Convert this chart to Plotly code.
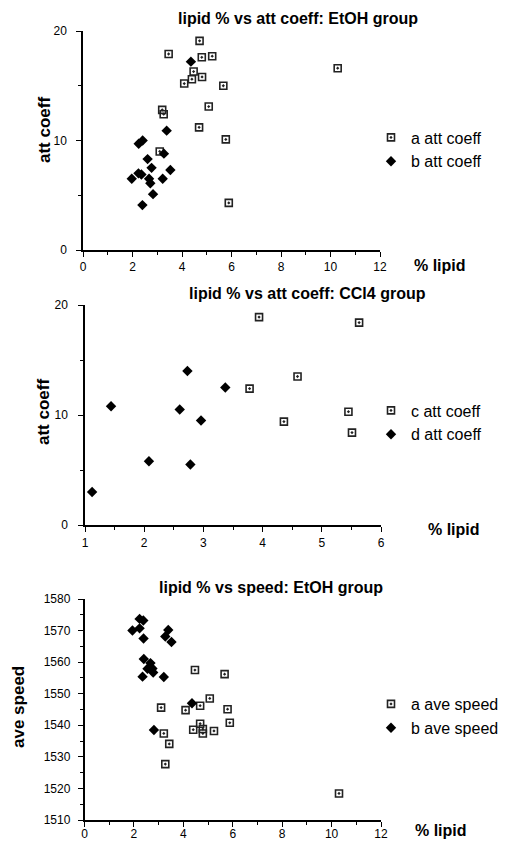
import plotly.graph_objects as go

# panel 1: lipid % vs att coeff, EtOH group
etoh_a_lipid = [3.46, 4.71, 4.80, 5.22, 4.47, 4.40, 4.09, 4.81, 5.67, 5.08, 3.20, 3.26, 4.69, 5.77, 3.10, 5.89, 10.29]
etoh_a_att = [17.9, 19.1, 17.6, 17.7, 16.3, 15.6, 15.2, 15.8, 15.0, 13.1, 12.8, 12.4, 11.2, 10.1, 9.0, 4.3, 16.6]
etoh_b_lipid = [4.36, 3.38, 2.41, 2.25, 3.27, 2.61, 2.77, 3.53, 2.24, 2.36, 1.97, 2.67, 3.22, 2.72, 2.83, 2.40]
etoh_b_att = [17.2, 10.9, 10.0, 9.7, 8.8, 8.3, 7.5, 7.3, 7.0, 6.9, 6.5, 6.5, 6.5, 6.1, 5.1, 4.1]

# panel 2: lipid % vs att coeff, CCl4 group
ccl4_c_lipid = [3.78, 3.94, 4.36, 4.59, 5.45, 5.51, 5.63]
ccl4_c_att = [12.4, 18.9, 9.4, 13.5, 10.3, 8.4, 18.4]
ccl4_d_lipid = [1.12, 1.44, 2.08, 2.60, 2.73, 2.78, 2.96, 3.37]
ccl4_d_att = [3.0, 10.8, 5.8, 10.5, 14.0, 5.5, 9.5, 12.5]

# panel 3: lipid % vs speed, EtOH group
speed_a_lipid = [4.47, 5.67, 5.07, 3.10, 4.09, 4.68, 5.79, 4.40, 4.68, 4.79, 4.79, 5.24, 5.88, 3.21, 3.43, 3.27, 10.30]
speed_a = [1557.5, 1556.2, 1548.5, 1545.6, 1544.8, 1546.2, 1545.1, 1538.6, 1540.5, 1538.8, 1537.4, 1538.2, 1540.8, 1537.4, 1534.1, 1527.7, 1518.4]
speed_b_lipid = [2.23, 2.38, 1.94, 2.23, 3.39, 2.39, 3.27, 3.52, 2.40, 2.67, 2.55, 2.75, 2.78, 2.35, 3.21, 4.35, 2.81]
speed_b = [1573.7, 1573.2, 1570.0, 1570.7, 1570.2, 1567.5, 1568.1, 1566.4, 1561.0, 1559.7, 1557.9, 1558.0, 1556.7, 1555.4, 1555.3, 1547.0, 1538.5]

W, H = 508, 843
OFF = 8  # the page body has an 8px margin, so the figure starts at (8, 8)
FONT = 'Liberation Sans'


def px(x):
    return (x - OFF) / W


def py(y):
    return 1 - (y - OFF) / H


fig = go.Figure()

square = dict(symbol='square-open-dot', size=7, color='#222', line=dict(width=1.6, color='#222'))
diamond = dict(symbol='diamond', size=8, color='black')

panels = [
    ('', etoh_a_lipid, etoh_a_att, 'a att coeff', etoh_b_lipid, etoh_b_att, 'b att coeff', 'legend'),
    ('2', ccl4_c_lipid, ccl4_c_att, 'c att coeff', ccl4_d_lipid, ccl4_d_att, 'd att coeff', 'legend2'),
    ('3', speed_a_lipid, speed_a, 'a ave speed', speed_b_lipid, speed_b, 'b ave speed', 'legend3'),
]
for n, x1, y1, name1, x2, y2, name2, leg in panels:
    fig.add_trace(go.Scatter(x=x1, y=y1, mode='markers', marker=square, name=name1,
                             xaxis='x' + n, yaxis='y' + n, legend=leg, cliponaxis=False))
    fig.add_trace(go.Scatter(x=x2, y=y2, mode='markers', marker=diamond, name=name2,
                             xaxis='x' + n, yaxis='y' + n, legend=leg, cliponaxis=False))

axis_common = dict(showline=True, linecolor='black', linewidth=1.5, showgrid=False, zeroline=False,
                   ticks='outside', ticklen=5, tickwidth=1, tickcolor='black', automargin=False,
                   tickfont=dict(family=FONT, size=12, color='black'))

# pixel boxes of the three plot areas: (left, right, top, bottom)
boxes = [(83, 380, 31, 250), (85, 381, 305, 525), (84.5, 381, 599, 820)]

fig.update_layout(
    width=W, height=H,
    margin=dict(l=0, r=0, t=0, b=0),
    paper_bgcolor='white', plot_bgcolor='white',
    font=dict(family=FONT, color='black'),
    xaxis=dict(domain=[px(boxes[0][0]), px(boxes[0][1])], range=[0, 12], dtick=2,
               minor=dict(ticks='outside', ticklen=3, dtick=1, tickcolor='black'),
               anchor='y', **axis_common),
    yaxis=dict(domain=[py(boxes[0][3]), py(boxes[0][2])], range=[0, 20], dtick=10,
               minor=dict(ticks='outside', ticklen=3, dtick=5, tickcolor='black'),
               anchor='x', ticklabelstandoff=7, **axis_common),
    xaxis2=dict(domain=[px(boxes[1][0]), px(boxes[1][1])], range=[1, 6], dtick=1,
                minor=dict(ticks='outside', ticklen=3, dtick=0.5, tickcolor='black'),
                anchor='y2', ticklabelstandoff=1, **axis_common),
    yaxis2=dict(domain=[py(boxes[1][3]), py(boxes[1][2])], range=[0, 20], dtick=10,
                minor=dict(ticks='outside', ticklen=3, dtick=5, tickcolor='black'),
                anchor='x2', ticklabelstandoff=8, **axis_common),
    xaxis3=dict(domain=[px(boxes[2][0]), px(boxes[2][1])], range=[0, 12], dtick=2,
                minor=dict(ticks='outside', ticklen=3, dtick=1, tickcolor='black'),
                anchor='y3', ticklabelstandoff=-3, **axis_common),
    yaxis3=dict(domain=[py(boxes[2][3]), py(boxes[2][2])], range=[1510, 1580], dtick=10,
                minor=dict(ticks='outside', ticklen=3, dtick=5, tickcolor='black'),
                anchor='x3', ticklabelstandoff=5, **axis_common),
)

legend_common = dict(xanchor='left', yanchor='middle', bgcolor='rgba(0,0,0,0)',
                     font=dict(family=FONT, size=16, color='black'), tracegroupgap=0)
fig.update_layout(
    legend=dict(x=px(371), y=py(149.5), **legend_common),
    legend2=dict(x=px(371), y=py(422.5), **legend_common),
    legend3=dict(x=px(371), y=py(716), **legend_common),
)

titles = [
    ('lipid % vs att coeff: EtOH group', 298, 19),
    ('lipid % vs att coeff: CCl4 group', 307, 293),
    ('lipid % vs speed: EtOH group', 271, 587),
]
for text, x, y in titles:
    fig.add_annotation(text='<b>' + text + '</b>', x=px(x), y=py(y), xref='paper', yref='paper',
                       showarrow=False, xanchor='center', yanchor='middle',
                       font=dict(family=FONT, size=16, color='black'))

for x, y in [(440, 265), (454, 529), (441, 830)]:
    fig.add_annotation(text='<b>% lipid</b>', x=px(x), y=py(y), xref='paper', yref='paper',
                       showarrow=False, xanchor='center', yanchor='middle',
                       font=dict(family=FONT, size=16, color='black'))

for text, x, y in [('att coeff', 45, 130), ('att coeff', 43, 412), ('ave speed', 18, 707)]:
    fig.add_annotation(text='<b>' + text + '</b>', x=px(x), y=py(y), xref='paper', yref='paper',
                       showarrow=False, xanchor='center', yanchor='middle', textangle=-90,
                       font=dict(family=FONT, size=17, color='black'))

fig.write_html('out.html')
